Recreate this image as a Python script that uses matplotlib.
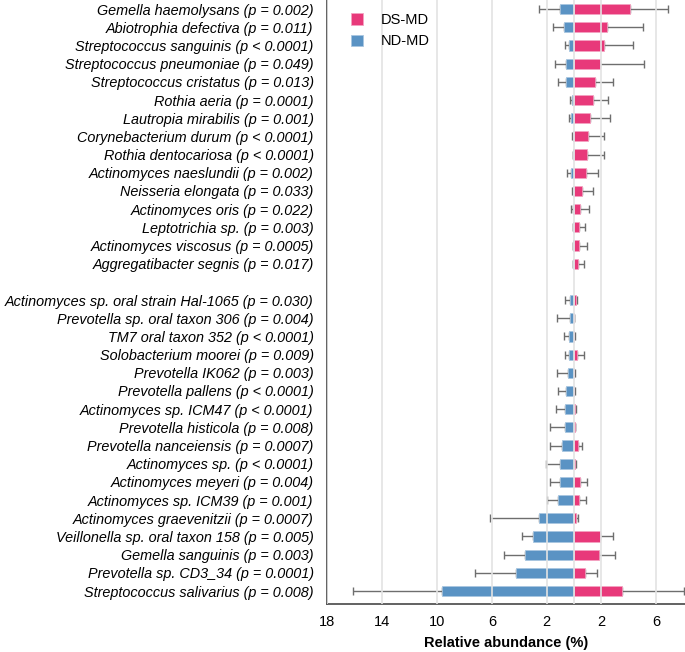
import matplotlib
matplotlib.use("Agg")
import matplotlib.pyplot as plt
import numpy as np

plt.rcParams['font.family'] = ['Liberation Sans', 'DejaVu Sans']

# species labels, top to bottom (None = spacer row)
labels = [
    "Gemella haemolysans (p = 0.002)",
    "Abiotrophia defectiva (p = 0.011)",
    "Streptococcus sanguinis (p < 0.0001)",
    "Streptococcus pneumoniae (p = 0.049)",
    "Streptococcus cristatus (p = 0.013)",
    "Rothia aeria (p = 0.0001)",
    "Lautropia mirabilis (p = 0.001)",
    "Corynebacterium durum (p < 0.0001)",
    "Rothia dentocariosa (p < 0.0001)",
    "Actinomyces naeslundii (p = 0.002)",
    "Neisseria elongata (p = 0.033)",
    "Actinomyces oris (p = 0.022)",
    "Leptotrichia sp. (p = 0.003)",
    "Actinomyces viscosus (p = 0.0005)",
    "Aggregatibacter segnis (p = 0.017)",
    None,
    "Actinomyces sp. oral strain Hal-1065 (p = 0.030)",
    "Prevotella sp. oral taxon 306 (p = 0.004)",
    "TM7 oral taxon 352 (p < 0.0001)",
    "Solobacterium moorei (p = 0.009)",
    "Prevotella IK062 (p = 0.003)",
    "Prevotella pallens (p < 0.0001)",
    "Actinomyces sp. ICM47 (p < 0.0001)",
    "Prevotella histicola (p = 0.008)",
    "Prevotella nanceiensis (p = 0.0007)",
    "Actinomyces sp. (p < 0.0001)",
    "Actinomyces meyeri (p = 0.004)",
    "Actinomyces sp. ICM39 (p = 0.001)",
    "Actinomyces graevenitzii (p = 0.0007)",
    "Veillonella sp. oral taxon 158 (p = 0.005)",
    "Gemella sanguinis (p = 0.003)",
    "Prevotella sp. CD3_34 (p = 0.0001)",
    "Streptococcus salivarius (p = 0.008)",
]

# mean relative abundance (%) and error bar ends, same order (spacer = nan)
nd_mean = [1.00, 0.75, 0.39, 0.56, 0.56, 0.17, 0.22, 0.07, 0.05, 0.19, 0.05, 0.05, 0.05, 0.05, 0.05, np.nan,
           0.32, 0.32, 0.36, 0.39, 0.44, 0.58, 0.63, 0.65, 0.87, 0.99, 1.04, 1.19, 2.55, 2.96, 3.59, 4.22, 9.65]
nd_err = [2.55, 1.55, 0.63, 1.38, 1.14, 0.32, 0.34, 0.12, 0.10, 0.48, 0.15, 0.24, 0.10, 0.10, 0.10, np.nan,
          0.68, 1.21, 0.73, 0.68, 1.26, 1.19, 1.31, 1.77, 1.75, 2.04, 1.75, 1.94, 6.11, 3.81, 5.12, 7.22, 16.1]
ds_mean = [4.10, 2.42, 2.20, 1.87, 1.55, 1.36, 1.14, 1.04, 0.92, 0.85, 0.56, 0.44, 0.39, 0.36, 0.32, np.nan,
           0.17, 0.02, 0.03, 0.24, 0.03, 0.03, 0.07, 0.05, 0.27, 0.05, 0.44, 0.36, 0.15, 1.89, 1.79, 0.80, 3.49]
ds_err = [6.84, 5.07, 4.27, 5.09, 2.86, 2.45, 2.64, 2.16, 2.18, 1.77, 1.38, 1.09, 0.82, 0.92, 0.73, np.nan,
          0.19, 0.02, 0.05, 0.75, 0.05, 0.05, 0.12, 0.10, 0.56, 0.17, 0.97, 0.90, 0.32, 2.81, 2.96, 1.67, 8.04]

pink = "#e8397a"
blue = "#5a93c4"
grid_col = "#e3e3e3"
err_col = "#6e6e6e"

y = np.arange(len(labels))
nd_mean = np.array(nd_mean)
ds_mean = np.array(ds_mean)
nd_err = np.array(nd_err)
ds_err = np.array(ds_err)

fig = plt.figure(figsize=(6.85, 6.52), dpi=100)
ax = fig.add_axes([0.478, 0.074, 0.522, 0.926])

ax.barh(y, -nd_mean, height=0.56, color=blue, edgecolor="#a9c6e0", linewidth=0.6, zorder=2, label="ND-MD")
ax.barh(y, ds_mean, height=0.56, color=pink, edgecolor="#f3a3c1", linewidth=0.6, zorder=2, label="DS-MD")

for v in [-18, -14, -10, -6, -2, 0, 2, 6]:
    ax.axvline(v, color=grid_col, lw=1.2, zorder=3)

# one-sided error bars from the bar end outward
ax.errorbar(-nd_err, y, xerr=[np.zeros_like(nd_err), nd_err - nd_mean], fmt="none",
            ecolor=err_col, elinewidth=1, capsize=3, capthick=1, zorder=1)
ax.errorbar(ds_err, y, xerr=[ds_err - ds_mean, np.zeros_like(ds_err)], fmt="none",
            ecolor=err_col, elinewidth=1, capsize=3, capthick=1, zorder=1)

ax.set_xlim(-18, 8.1)
ax.set_ylim(32.7, -0.5)
ax.set_xticks([-18, -14, -10, -6, -2, 2, 6])
ax.set_xticklabels(["18", "14", "10", "6", "2", "2", "6"], fontsize=10.5)
ytick_pos = [i for i, l in enumerate(labels) if l is not None]
ax.set_yticks(ytick_pos)
ax.set_yticklabels([labels[i] for i in ytick_pos], fontsize=10.4, style="italic")
ax.tick_params(length=0)
ax.tick_params(axis="x", pad=8)
ax.tick_params(axis="y", pad=10)

for s in ["top", "right"]:
    ax.spines[s].set_visible(False)
for s in ["left", "bottom"]:
    ax.spines[s].set_color("#555555")
    ax.spines[s].set_linewidth(1.3)

ax.set_xlabel("Relative abundance (%)", fontsize=10.5, fontweight="bold", labelpad=5)

handles, lbls = ax.get_legend_handles_labels()
ax.legend(handles[::-1], lbls[::-1], loc="upper left", bbox_to_anchor=(0.03, 1.0), frameon=False,
          fontsize=10.5, handlelength=0.8, handleheight=0.8, handletextpad=1.2, labelspacing=0.5)

fig.savefig("out.png", dpi=100)
